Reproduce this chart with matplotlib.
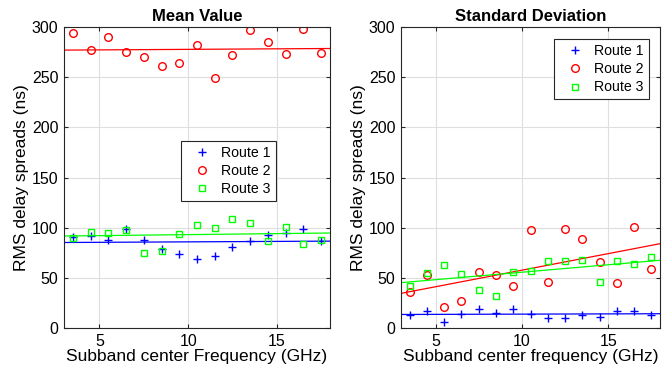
import numpy as np
import matplotlib
matplotlib.use("Agg")
import matplotlib.pyplot as plt

plt.rcParams['font.family'] = ['Liberation Sans', 'DejaVu Sans']

freq = [3.5, 4.5, 5.5, 6.5, 7.5, 8.5, 9.5, 10.5, 11.5, 12.5, 13.5, 14.5, 15.5, 16.5, 17.5]

# mean value (ns)
mean_r1 = [90.5, 91.5, 88, 98.5, 87.5, 78.5, 73.5, 68.5, 72, 81, 86.5, 92.5, 95, 98.5, 86.5]
mean_r2 = [294.5, 277, 290.5, 275.5, 270.5, 261.5, 264, 282.5, 249, 272.5, 297.5, 285, 273.5, 298.5, 274.5]
mean_r3 = [90, 96, 94.5, 97.5, 75, 77, 93.5, 102.5, 99.5, 108.5, 104.5, 87, 100.5, 84, 87.5]

# standard deviation (ns)
std_r1 = [13.3, 16.6, 6, 14, 18.6, 14.6, 18.6, 14.3, 9.6, 10.3, 13.3, 10.6, 17.3, 17.3, 13.3]
std_r2 = [35.6, 53, 20.6, 27.3, 55.6, 53, 42, 97.3, 46, 99, 89, 65.3, 45, 101, 59.3]
std_r3 = [41.6, 55, 62.6, 54, 38, 32, 56, 57.3, 66.3, 66.6, 68, 46, 67, 64, 70.6]

routes = ['Route 1', 'Route 2', 'Route 3']
colors = ['#0000ff', '#ff0000', '#00ff00']
markers = ['+', 'o', 's']


def draw_panel(ax, series, title, xlabel, legend_loc, legend_anchor):
    xs = np.linspace(3, 18, 50)
    for vals, name, col, mk in zip(series, routes, colors, markers):
        if mk == '+':
            ax.plot(freq, vals, mk, color=col, ms=6, mew=1.0, label=name)
        else:
            ax.plot(freq, vals, mk, mfc='none', mec=col, ms=5.5 if mk == 'o' else 5, mew=1.0, label=name)
        # least-squares fit line, as in the original
        p = np.polyfit(freq, vals, 1)
        ax.plot(xs, np.polyval(p, xs), '-', color=col, lw=0.9)
    ax.set_xlim(3, 18)
    ax.set_ylim(0, 300)
    ax.set_xticks([5, 10, 15])
    ax.set_yticks(range(0, 301, 50))
    ax.grid(True, color='#dedede', lw=0.8)
    ax.set_axisbelow(True)
    ax.tick_params(direction='in', top=True, right=True, labelsize=11.5, length=3, color='#262626', pad=4)
    for s in ax.spines.values():
        s.set_color('#262626')
        s.set_linewidth(0.8)
    ax.set_title(title, fontsize=12, fontweight='bold', pad=4)
    ax.set_xlabel(xlabel, fontsize=12.5, labelpad=0)
    ax.set_ylabel('RMS delay spreads (ns)', fontsize=12.5, labelpad=2)
    leg = ax.legend(loc=legend_loc, bbox_to_anchor=legend_anchor, fancybox=False,
                    edgecolor='#262626', fontsize=10.2, handlelength=2.2, borderpad=0.35,
                    labelspacing=0.3, handletextpad=0.3, borderaxespad=0, framealpha=1)
    leg.get_frame().set_linewidth(0.8)


fig = plt.figure(figsize=(6.65, 3.68), dpi=100)
ax1 = fig.add_axes([64 / 665, 1 - 328 / 368, 266 / 665, 301 / 368])
ax2 = fig.add_axes([401 / 665, 1 - 328 / 368, 259 / 665, 301 / 368])

draw_panel(ax1, [mean_r1, mean_r2, mean_r3], 'Mean Value',
           'Subband center Frequency (GHz)', 'lower left', (0.44, 0.422))
draw_panel(ax2, [std_r1, std_r2, std_r3], 'Standard Deviation',
           'Subband center frequency (GHz)', 'upper right', (0.9575, 0.96))

fig.savefig('out.png', dpi=100)
